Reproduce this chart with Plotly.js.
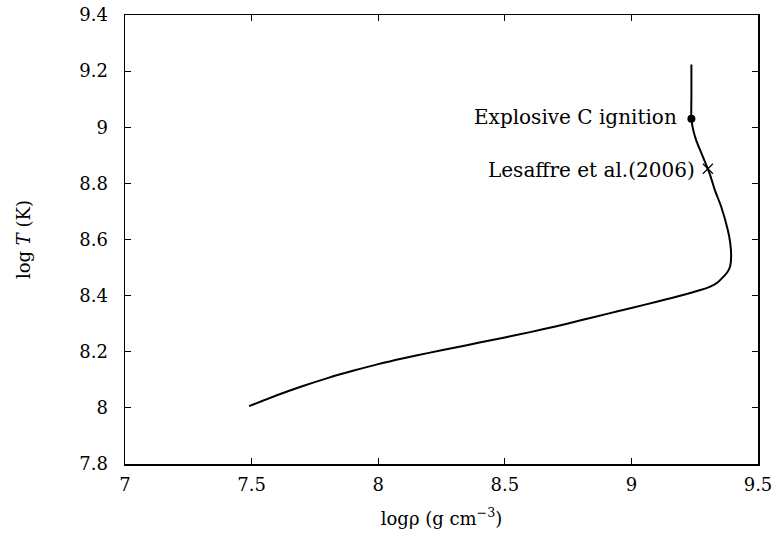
<!DOCTYPE html>
<html>
<head>
<meta charset="utf-8">
<script src="https://cdn.plot.ly/plotly-3.0.1.min.js"></script>
<style>
  html, body { margin: 0; padding: 0; background: #fff; }
  #plot { width: 778px; height: 543px; }
</style>
</head>
<body>
<div id="plot"></div>
<script>
// Central density / temperature track (log rho, log T)
const logRho = [7.49, 7.60, 7.70, 7.80, 7.90, 8.00, 8.10, 8.20, 8.30, 8.40, 8.50, 8.60, 8.70,
                8.80, 8.90, 9.00, 9.10, 9.20, 9.269, 9.309, 9.340, 9.361, 9.380, 9.390, 9.394,
                9.390, 9.381, 9.355, 9.330, 9.309, 9.280, 9.256, 9.243, 9.237, 9.237, 9.237];
const logT   = [8.006, 8.045, 8.077, 8.106, 8.132, 8.156, 8.177, 8.196, 8.214, 8.233, 8.251, 8.270, 8.290,
                8.312, 8.334, 8.356, 8.378, 8.401, 8.419, 8.431, 8.447, 8.465, 8.485, 8.505, 8.540,
                8.590, 8.633, 8.716, 8.775, 8.835, 8.900, 8.953, 8.995, 9.030, 9.120, 9.224];

// Marked events
const ignitionRho = [9.237];
const ignitionT   = [9.030];
const ignitionLabel = 'Explosive C ignition';
const lesaffreRho = [9.302];
const lesaffreT   = [8.852];
const lesaffreLabel = 'Lesaffre et al.(2006)';

// Axis ticks
const xTicks = [7, 7.5, 8, 8.5, 9, 9.5];
const xTickText = ['7', '7.5', '8', '8.5', '9', '9.5'];
const yTicks = [7.8, 8, 8.2, 8.4, 8.6, 8.8, 9, 9.2, 9.4];
const yTickText = ['7.8', '8', '8.2', '8.4', '8.6', '8.8', '9', '9.2', '9.4'];

const serif = 'DejaVu Serif, serif';
const fs = 18;

const traces = [
  {
    x: logRho, y: logT, type: 'scatter', mode: 'lines',
    line: { color: '#000', width: 2, shape: 'spline', smoothing: 0.8 },
    hoverinfo: 'skip'
  },
  {
    x: ignitionRho, y: ignitionT, type: 'scatter', mode: 'markers',
    marker: { symbol: 'circle', size: 8, color: '#000' }
  },
  {
    x: lesaffreRho, y: lesaffreT, type: 'scatter', mode: 'markers',
    marker: { symbol: 'x-thin', size: 10, line: { color: '#000', width: 1.2 } }
  }
];

const axisCommon = {
  showgrid: false, zeroline: false,
  showline: true, linecolor: '#000', linewidth: 1.5, mirror: 'allticks',
  ticks: 'inside', ticklen: 6, tickwidth: 1, tickcolor: '#000',
  tickfont: { family: serif, size: fs, color: '#000' }
};

const layout = {
  width: 778, height: 543,
  margin: { l: 124.5, r: 19.5, t: 14.5, b: 79 },
  paper_bgcolor: '#fff', plot_bgcolor: '#fff',
  showlegend: false,
  xaxis: Object.assign({}, axisCommon, {
    range: [7, 9.5], tickvals: xTicks, ticktext: xTickText,
    ticklabelstandoff: 4,
    title: { text: 'logρ (g cm<sup>−3</sup>)', font: { family: serif, size: fs, color: '#000' }, standoff: 18 }
  }),
  yaxis: Object.assign({}, axisCommon, {
    range: [7.8, 9.4], tickvals: yTicks, ticktext: yTickText,
    ticklabelstandoff: 12,
    title: { text: 'log <i>T</i> (K)', font: { family: serif, size: fs, color: '#000' }, standoff: 44 }
  }),
  annotations: [
    {
      x: ignitionRho[0], y: ignitionT[0], xref: 'x', yref: 'y',
      text: ignitionLabel, showarrow: false, xanchor: 'right', yanchor: 'middle',
      xshift: -12, yshift: 2, font: { family: serif, size: 20, color: '#000' }
    },
    {
      x: lesaffreRho[0], y: lesaffreT[0], xref: 'x', yref: 'y',
      text: lesaffreLabel, showarrow: false, xanchor: 'right', yanchor: 'middle',
      xshift: -11, yshift: -1, font: { family: serif, size: 20, color: '#000' }
    }
  ]
};

Plotly.newPlot('plot', traces, layout, { staticPlot: true, displayModeBar: false });
</script>
</body>
</html>
